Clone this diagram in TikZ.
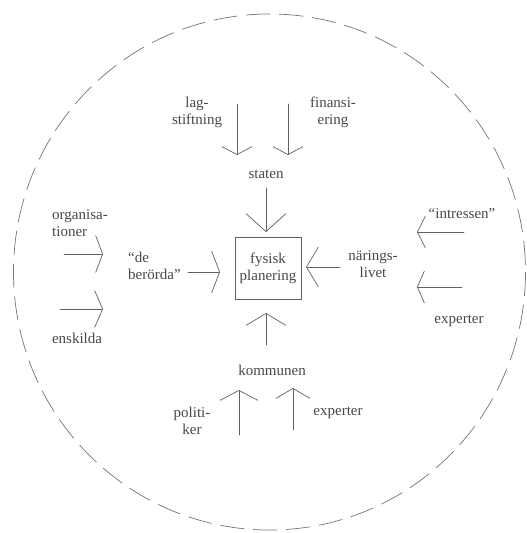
\documentclass[tikz,border=0pt]{standalone}
\usepackage{fontspec}
\setmainfont{Liberation Serif}
\usetikzlibrary{arrows.meta}
\begin{document}
\begin{tikzpicture}[x=1pt,y=-1pt,
  lbl/.style={font=\fontsize{15}{17}\selectfont, text=black!72, inner sep=0pt, align=center},
  ln/.style={draw=black!62, line width=0.7pt, line cap=round},
  hd/.style 2 args={ln, -{Straight Barb[length=#1pt,width=#2pt]}},
  boxnode/.style={draw=black!62, line width=0.8pt, minimum width=66pt, minimum height=62pt, inner sep=0pt,
    font=\fontsize{15}{17}\selectfont, text=black!72, align=center}]
\useasboundingbox (0,0) rectangle (527,533);
% outer dashed circle
\draw[draw=black!55, line width=0.7pt, dash pattern=on 24pt off 9pt] (269.5,272) ellipse [x radius=256, y radius=258];
% nodes
\node[boxnode] (fp) at (268,268) {fysisk\\planering};
\node[lbl] (staten) at (266,174) {staten};
\node[lbl] (lag) at (197,112) {lag-\\stiftning};
\node[lbl] (fin) at (333,112) {finansi-\\ering};
\node[lbl] (nar) at (373,264) {närings-\\livet};
\node[lbl, align=left, anchor=west] (ber) at (128,266) {“de\\berörda”};
\node[lbl] (kom) at (272,370) {kommunen};
\node[lbl] (pol) at (192,421) {politi-\\ker};
\node[lbl] (expb) at (338,413) {experter};
\node[lbl, align=left, anchor=west] (org) at (52,223) {organisa-\\tioner};
\node[lbl] (ens) at (77,338) {enskilda};
\node[lbl] (int) at (462,214) {“intressen”};
\node[lbl] (expr) at (459,321) {experter};
% coordinates for arrow ends
\coordinate (lagS) at (237,104); \coordinate (lagE) at (237,155);
\coordinate (finS) at (288,104); \coordinate (finE) at (288,155);
\coordinate (stS) at (266,188);  \coordinate (stE) at (266,232);
\coordinate (narS) at (340,267); \coordinate (narE) at (306,267);
\coordinate (berS) at (188,272); \coordinate (berE) at (220,272);
\coordinate (komS) at (266,345); \coordinate (komE) at (266,313);
\coordinate (polS) at (239,435); \coordinate (polE) at (239,390);
\coordinate (expS) at (293,430); \coordinate (expE) at (293,388);
\coordinate (orgS) at (64,254);  \coordinate (orgE) at (103,254);
\coordinate (ensS) at (60,309);  \coordinate (ensE) at (103,309);
\coordinate (intS) at (464,232); \coordinate (intE) at (417,232);
\coordinate (exrS) at (462,287); \coordinate (exrE) at (417,287);
% arrows
\draw[hd={8}{30}] (lagS) -- (lagE);
\draw[hd={8}{30}] (finS) -- (finE);
\draw[hd={18}{40}] (stS) -- (stE);
\draw[hd={12}{40}] (narS) -- (narE);
\draw[hd={8}{42}] (berS) -- (berE);
\draw[hd={12}{40}] (komS) -- (komE);
\draw[hd={10}{38}] (polS) -- (polE);
\draw[hd={10}{34}] (expS) -- (expE);
\draw[hd={7}{37}] (orgS) -- (orgE);
\draw[hd={8}{37}] (ensS) -- (ensE);
\draw[hd={8}{32}] (intS) -- (intE);
\draw[hd={7}{32}] (exrS) -- (exrE);
\end{tikzpicture}
\end{document}
